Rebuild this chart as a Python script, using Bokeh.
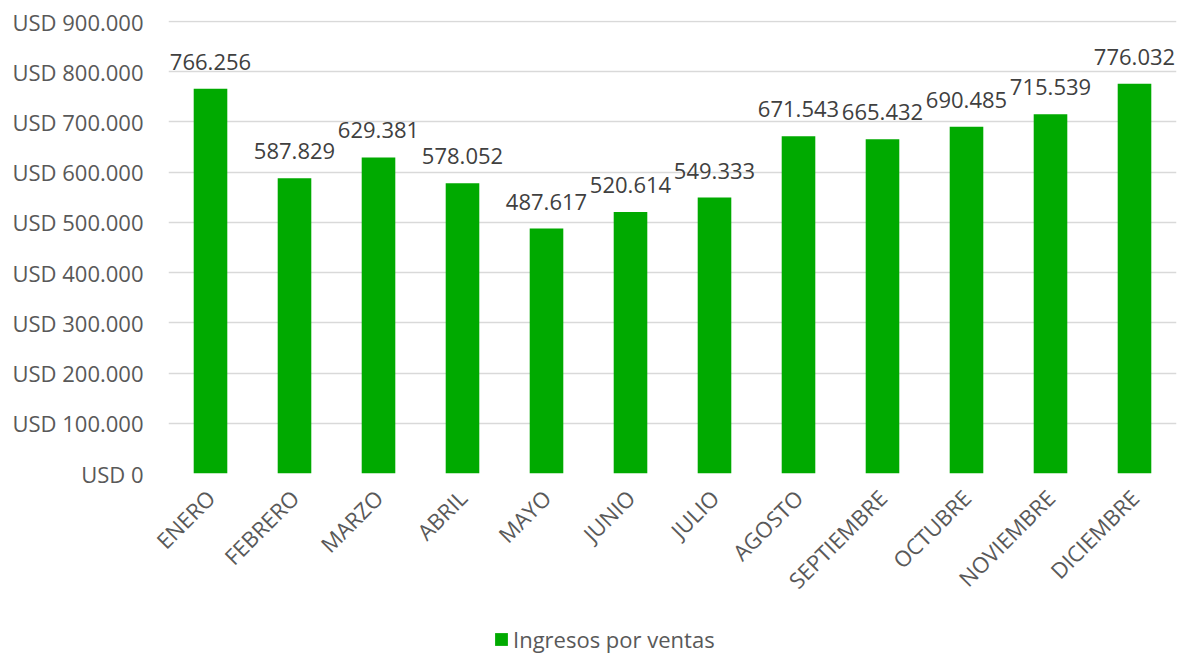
import math
from bokeh.plotting import figure
from bokeh.layouts import column
from bokeh.models import ColumnDataSource, FixedTicker, Legend, LegendItem, Range1d
from bokeh.core.properties import value
from bokeh.embed import file_html
from bokeh.resources import INLINE

months = ["ENERO", "FEBRERO", "MARZO", "ABRIL", "MAYO", "JUNIO", "JULIO",
          "AGOSTO", "SEPTIEMBRE", "OCTUBRE", "NOVIEMBRE", "DICIEMBRE"]
ingresos = [766256, 587829, 629381, 578052, 487617, 520614, 549333,
            671543, 665432, 690485, 715539, 776032]
y_ticks = [0, 100000, 200000, 300000, 400000, 500000, 600000, 700000, 800000, 900000]
y_tick_labels = ["USD 0", "USD 100.000", "USD 200.000", "USD 300.000", "USD 400.000",
                 "USD 500.000", "USD 600.000", "USD 700.000", "USD 800.000", "USD 900.000"]
series_name = "Ingresos por ventas"

FONT = "Open Sans"
GREEN = "#00AA00"

labels = ["{:,}".format(v).replace(",", ".") for v in ingresos]
src = ColumnDataSource(data=dict(x=months, y=ingresos, lab=labels))

p = figure(x_range=months, y_range=(0, 902000), width=1184, height=620,
           output_backend="svg", toolbar_location=None,
           min_border_left=168, min_border_right=8, min_border_top=20,
           min_border_bottom=147)
p.outline_line_color = None
p.background_fill_color = "white"
p.border_fill_color = "white"

bars = p.vbar(x="x", top="y", width=0.4, source=src, fill_color=GREEN, line_color=None)
p.text(x="x", y="y", text="lab", source=src, text_align="center",
       text_baseline="alphabetic", y_offset=-27, text_font=value(FONT),
       text_font_size="22px", text_color="#404040")

p.yaxis.ticker = FixedTicker(ticks=y_ticks)
p.yaxis.major_label_overrides = {t: l for t, l in zip(y_ticks, y_tick_labels)}
for ax in (p.xaxis, p.yaxis):
    ax.axis_line_color = None
    ax.major_tick_line_color = None
    ax.minor_tick_line_color = None
    ax.major_label_text_font = FONT
    ax.major_label_text_font_size = "22px"
    ax.major_label_text_color = "#595959"
p.yaxis.major_label_standoff = 19
p.xaxis.major_label_orientation = math.pi / 4
p.xaxis.major_label_standoff = 14

p.xgrid.grid_line_color = None
p.ygrid.ticker = FixedTicker(ticks=y_ticks)
p.ygrid.grid_line_color = "#D9D9D9"
p.ygrid.grid_line_width = 1.5

# legend strip below the chart (its frame is aligned with the chart's frame)
p2 = figure(width=1184, height=34, output_backend="svg", toolbar_location=None,
            x_range=Range1d(0, 1), y_range=Range1d(0, 1),
            min_border_left=168, min_border_right=8, min_border_top=0, min_border_bottom=0)
p2.axis.visible = False
p2.grid.visible = False
p2.outline_line_color = None
p2.border_fill_color = "white"
p2.background_fill_color = "white"
leg_src = ColumnDataSource(data=dict(x=[0.5], top=[0.0]))  # zero-height: legend swatch only
dummy = p2.vbar(x="x", top="top", bottom=0, width=0.0, source=leg_src,
                fill_color=GREEN, line_color=None)

legend = Legend(items=[LegendItem(label=series_name, renderers=[dummy])],
                location=(325, 0), orientation="horizontal",
                border_line_color=None, background_fill_alpha=0,
                label_text_font=FONT, label_text_font_size="22px",
                label_text_color="#595959", glyph_width=16, glyph_height=16,
                label_standoff=4, padding=0, margin=0, spacing=0)
p2.add_layout(legend, "center")

open("out.html", "w").write(file_html(column(p, p2, spacing=0), INLINE))
